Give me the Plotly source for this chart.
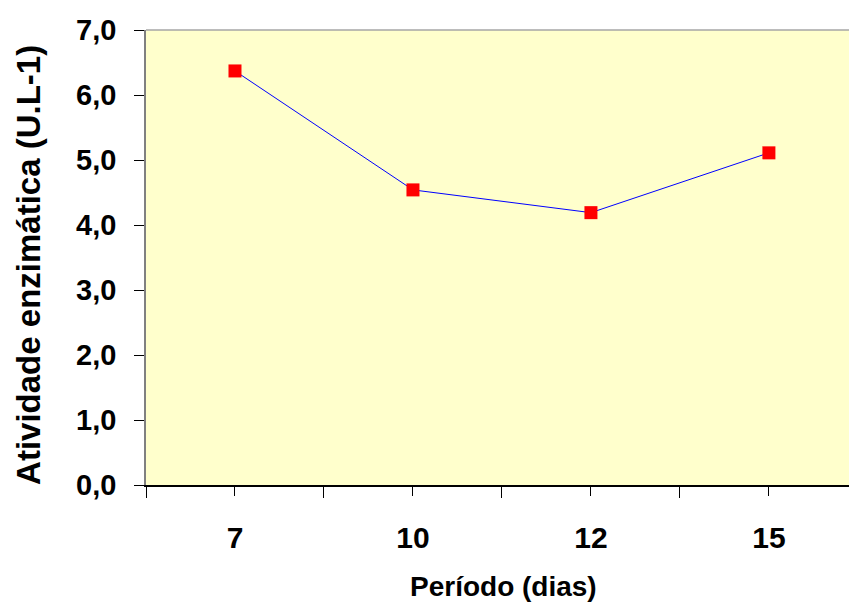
import plotly.graph_objects as go

# Enzyme activity per sampling period
periodos = ["7", "10", "12", "15"]
atividade = [6.37, 4.54, 4.19, 5.11]

y_ticks = [0, 1, 2, 3, 4, 5, 6, 7]

FONT = "Liberation Sans, Arial, sans-serif"

pos = list(range(len(periodos)))

fig = go.Figure(
    go.Scatter(
        x=pos,
        y=atividade,
        mode="lines+markers",
        line=dict(color="#0000FF", width=1),
        marker=dict(symbol="square", size=13, color="#FF0000",
                    line=dict(width=0)),
        showlegend=False,
        hoverinfo="y",
    )
)

fig.update_layout(
    width=849,
    height=606,
    margin=dict(l=146, r=0, t=30, b=121),
    paper_bgcolor="#FFFFFF",
    plot_bgcolor="#FFFFCC",
    separators=",.",
    font=dict(family=FONT, color="#000000"),
    shapes=[
        # thin grey frame along the top of the plot area
        dict(type="line", xref="paper", yref="paper", x0=0, x1=1, y0=1, y1=1,
             line=dict(color="#A6A6A6", width=1.5)),
    ],
    annotations=[
        dict(text="Período (dias)", xref="paper", yref="paper",
             x=0.509, y=-0.222, showarrow=False, xanchor="center", yanchor="middle",
             font=dict(family=FONT, size=28, weight="bold", color="#000000")),
        dict(text="Atividade enzimática (U.L-1)", xref="paper", yref="paper",
             x=-0.168, y=0.4835, showarrow=False, textangle=-90,
             xanchor="center", yanchor="middle",
             font=dict(family=FONT, size=33, weight="bold", color="#000000")),
    ],
)

fig.update_xaxes(
    range=[-0.5, 3.45],
    tickvals=pos,
    ticktext=periodos,
    ticks="outside",
    ticklen=9,
    tickwidth=1,
    tickcolor="#000000",
    minor=dict(tickvals=[-0.5, 0.5, 1.5, 2.5, 3.5], ticks="outside",
               ticklen=11, tickwidth=1, tickcolor="#000000"),
    ticklabelstandoff=16,
    tickfont=dict(family=FONT, size=30, weight="bold", color="#000000"),
    showline=True,
    linecolor="#000000",
    linewidth=1.5,
    showgrid=False,
    zeroline=False,
    fixedrange=True,
)

fig.update_yaxes(
    range=[0, 7],
    tickvals=y_ticks,
    tickformat=".1f",
    ticks="outside",
    ticklen=10,
    tickwidth=1,
    tickcolor="#000000",
    ticklabelstandoff=12,
    tickfont=dict(family=FONT, size=29, weight="bold", color="#000000"),
    showline=True,
    linecolor="#808080",
    linewidth=1.5,
    showgrid=False,
    zeroline=False,
    fixedrange=True,
)

fig.write_html("out.html")
